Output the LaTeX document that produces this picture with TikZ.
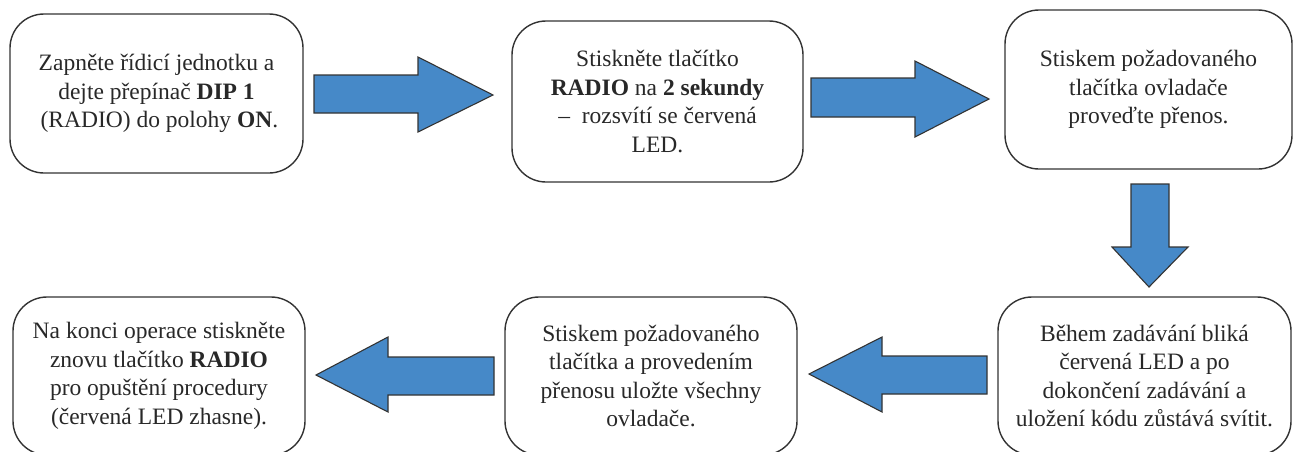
\documentclass[tikz,border=0pt]{standalone}
\usepackage{fontspec}
\setmainfont{Liberation Serif}
\newfontfamily\boxfont{Liberation Serif}
\usepackage{tikz}
\usetikzlibrary{positioning}

\definecolor{arrowblue}{RGB}{70,137,200}
\definecolor{edgegray}{RGB}{51,51,51}
\definecolor{textgray}{RGB}{40,40,40}

\tikzset{
  stepbox/.style={draw=edgegray,line width=1.4pt,rounded corners=34pt,
    align=center,text=textgray,inner sep=0pt,
    font=\boxfont\fontsize{23.5}{28.5}\selectfont},
  blockarrow/.style={fill=arrowblue,draw=edgegray,line width=1.1pt,line join=miter}
}

\begin{document}
\begin{tikzpicture}[x=1pt,y=-1pt]
  \useasboundingbox (0,0) rectangle (1293,451);
  % boxes
  \node[stepbox,minimum width=293pt,minimum height=159pt]
    (zapnete) at (156.5,93.5)
    {Zapněte řídicí jednotku a\\
     dejte přepínač \textbf{DIP 1}\\
     \ (RADIO) do polohy \textbf{ON}.};
  \node[stepbox,minimum width=291pt,minimum height=161pt]
    (radio) at (657.5,101.5)
    {Stiskněte tlačítko\\
     \textbf{RADIO} na \textbf{2 sekundy}\\
     –\ \ rozsvítí se červená\\
     LED.};
  \node[stepbox,minimum width=287pt,minimum height=159pt]
    (prenos) at (1148.5,89.5)
    {Stiskem požadovaného\\
     tlačítka ovladače\\
     proveďte přenos.};
  \node[stepbox,minimum width=293pt,minimum height=158pt]
    (blika) at (1144.5,376)
    {Během zadávání bliká\\
     červená LED a po\\
     dokončení zadávání a\\
     uložení kódu zůstává svítit.};
  \node[stepbox,minimum width=292pt,minimum height=158pt]
    (ulozte) at (651,376)
    {Stiskem požadovaného\\
     tlačítka a provedením\\
     přenosu uložte všechny\\
     ovladače.};
  \node[stepbox,minimum width=292pt,minimum height=158pt]
    (konec) at (159,376)
    {Na konci operace stiskněte\\
     znovu tlačítko \textbf{RADIO}\\
     pro opuštění procedury\\
     (červená LED zhasne).};
  % block arrows
  \filldraw[blockarrow]
    (314,75) -- (418,75) -- (418,57) -- (493,95)
    -- (418,132) -- (418,113) -- (314,113) -- cycle;
  \filldraw[blockarrow]
    (811,78) -- (915,78) -- (915,61) -- (989,99)
    -- (915,137) -- (915,117) -- (811,117) -- cycle;
  \filldraw[blockarrow]
    (1131,184) -- (1169,184) -- (1169,247) -- (1188,247)
    -- (1149,287) -- (1112,247) -- (1131,247) -- cycle;
  \filldraw[blockarrow]
    (987,356) -- (882,356) -- (882,337) -- (809,374)
    -- (882,412) -- (882,394) -- (987,394) -- cycle;
  \filldraw[blockarrow]
    (494,357) -- (388,357) -- (388,337) -- (316,375)
    -- (388,412) -- (388,395) -- (494,395) -- cycle;
\end{tikzpicture}
\end{document}
